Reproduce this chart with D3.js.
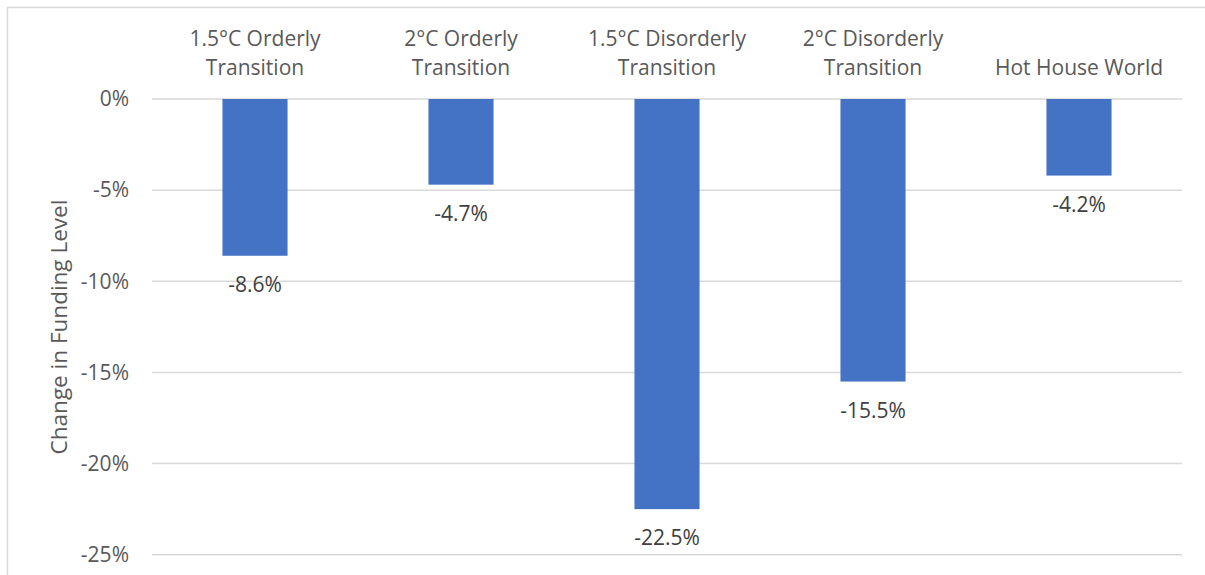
<!DOCTYPE html>
<html>
<head>
<meta charset="utf-8">
<script src="https://cdn.jsdelivr.net/npm/d3@7"></script>
<style>
  body { margin: 0; background: #fff; }
  svg { display: block; font-family: "Open Sans", sans-serif; }
</style>
</head>
<body>
<div id="chart"></div>
<script>
var categories = [
  ["1.5°C Orderly", "Transition"],
  ["2°C Orderly", "Transition"],
  ["1.5°C Disorderly", "Transition"],
  ["2°C Disorderly", "Transition"],
  ["Hot House World"]
];
var values = [-8.6, -4.7, -22.5, -15.5, -4.2];
var yTicks = [0, -5, -10, -15, -20, -25];

var WIDTH = 1205, HEIGHT = 575;
var margin = {top: 99, right: 23, left: 152};

var svg = d3.select("#chart").append("svg")
  .attr("width", WIDTH)
  .attr("height", HEIGHT);

// chart frame
svg.append("rect")
  .attr("x", 7.5).attr("y", 7.5)
  .attr("width", WIDTH + 20).attr("height", HEIGHT + 20)
  .attr("fill", "none")
  .attr("stroke", "#d9d9d9")
  .attr("stroke-width", 1.5);

var x = d3.scaleBand()
  .domain(d3.range(categories.length))
  .range([margin.left, WIDTH - margin.right])
  .paddingInner(0.684)
  .paddingOuter(0.342);

var y = d3.scaleLinear()
  .domain([0, -25])
  .range([margin.top, 554.7]);

// gridlines
svg.append("g")
  .selectAll("line")
  .data(yTicks)
  .join("line")
    .attr("x1", margin.left)
    .attr("x2", WIDTH - margin.right)
    .attr("y1", function(d) { return y(d); })
    .attr("y2", function(d) { return y(d); })
    .attr("stroke", "#d9d9d9")
    .attr("stroke-width", 1.5);

// y axis labels
var yAxis = svg.append("g")
  .attr("transform", "translate(" + (margin.left - 8) + ",0)")
  .call(d3.axisLeft(y).tickValues(yTicks).tickSize(0).tickPadding(15)
    .tickFormat(function(d) { return d + "%"; }));
yAxis.select(".domain").remove();
yAxis.selectAll("text")
  .style("font-family", "'Open Sans', sans-serif")
  .style("font-size", "21px")
  .attr("fill", "#595959");

// y axis title
svg.append("text")
  .attr("transform", "translate(67,327) rotate(-90)")
  .attr("text-anchor", "middle")
  .style("font-size", "22.5px")
  .attr("fill", "#595959")
  .text("Change in Funding Level");

// bars
svg.append("g")
  .selectAll("rect")
  .data(values)
  .join("rect")
    .attr("x", function(d, i) { return x(i); })
    .attr("y", y(0))
    .attr("width", x.bandwidth())
    .attr("height", function(d) { return y(d) - y(0); })
    .attr("fill", "#4472c4");

// value labels
svg.append("g")
  .selectAll("text")
  .data(values)
  .join("text")
    .attr("x", function(d, i) { return x(i) + x.bandwidth() / 2; })
    .attr("y", function(d) { return y(d) + 36; })
    .attr("text-anchor", "middle")
    .style("font-size", "21px")
    .attr("fill", "#404040")
    .text(function(d) { return d.toFixed(1) + "%"; });

// category labels along the top
var cat = svg.append("g")
  .selectAll("text")
  .data(categories)
  .join("text")
    .attr("text-anchor", "middle")
    .style("font-size", "21px")
    .attr("fill", "#595959");

cat.selectAll("tspan")
  .data(function(d, i) {
    return d.map(function(t, j) { return {t: t, i: i, j: j, n: d.length}; });
  })
  .join("tspan")
    .attr("x", function(d) { return x(d.i) + x.bandwidth() / 2; })
    .attr("y", function(d) { return 75 - (d.n - 1 - d.j) * 29; })
    .text(function(d) { return d.t; });
</script>
</body>
</html>
